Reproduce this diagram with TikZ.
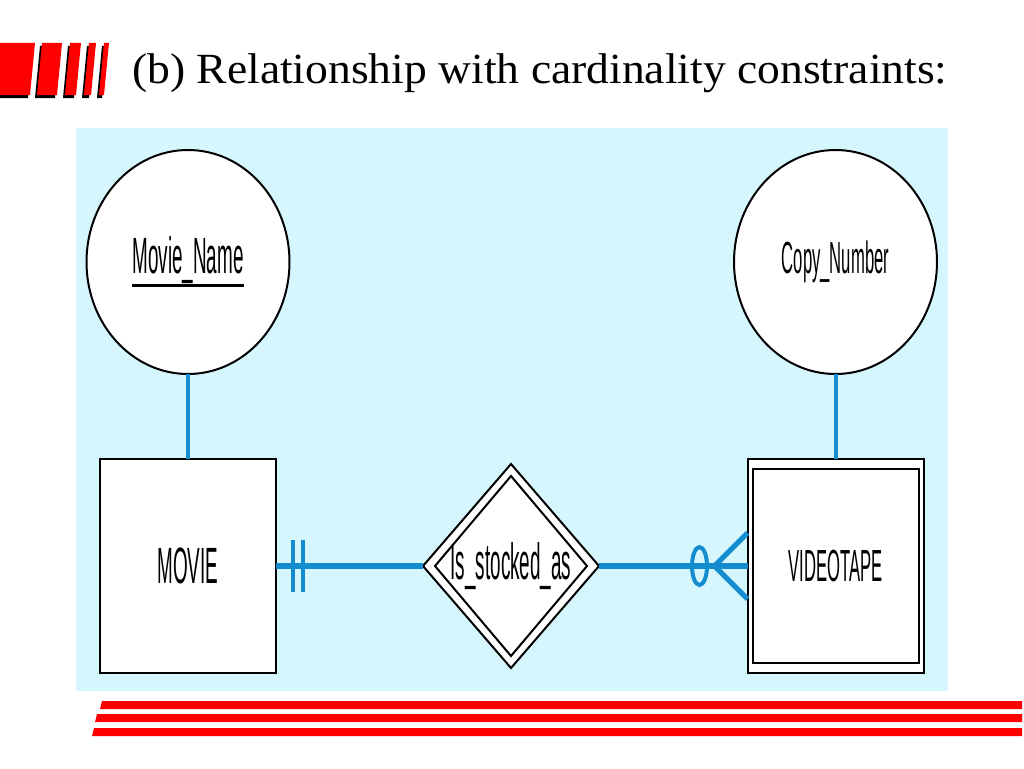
\documentclass[tikz,border=0pt]{standalone}
\usepackage{fontspec}
\setmainfont{Liberation Serif}
\newfontfamily\titleserif[FakeStretch=1.06]{Liberation Serif}
\newfontfamily\narrowsans[FakeStretch=0.37]{Liberation Sans}
\usepackage{xcolor}
\usetikzlibrary{shapes,shapes.geometric}
\usetikzlibrary{arrows.meta}
\definecolor{slidebg}{RGB}{214,246,253}
\definecolor{erblue}{RGB}{20,140,205}
\newcommand{\erbig}{\narrowsans\fontsize{51}{51}\selectfont}
\newcommand{\ersmall}{\narrowsans\fontsize{45}{45}\selectfont}
\newcommand{\keyattr}[1]{\setbox0=\hbox{#1}\leavevmode\rlap{\raisebox{-13pt}{\rule{\wd0}{2.5pt}}}\box0}

\begin{document}
\begin{tikzpicture}[x=1pt, y=-1pt,
	erbox/.style={fill=white, draw=black, line width=2pt, outer sep=0pt, inner sep=0pt, font=\ersmall},
	entity/.style={erbox, shape=rectangle, minimum width=176pt, minimum height=214pt},
	attrib/.style={erbox, shape=ellipse, minimum width=203pt, minimum height=224pt},
	relship/.style={erbox, shape=diamond, aspect=0.86, minimum width=176pt, minimum height=204pt},
	conn/.style={draw=erblue, line width=4pt},
	mainconn/.style={draw=erblue, line width=6pt}]
	\useasboundingbox (0, 0) rectangle (1024, 768);
	\foreach \xa/\xb in {-8/35, 37/62, 65/81, 84/96, 99/109} {
		\fill [black] (\xa-2, 98) -- (\xb-7, 98) -- (\xb-2, 46) -- (\xa+3, 46) -- cycle;
		\fill [red] (\xa, 95) -- (\xb-5, 95) -- (\xb, 43) -- (\xa+5, 43) -- cycle;
	}
	\node [anchor=base west, inner sep=0pt, font=\titleserif\fontsize{43}{43}\selectfont] (0) at (132, 83) {(b) Relationship with cardinality constraints:};
	\fill [slidebg] (76, 128) rectangle (948, 691);
	\foreach \ya/\xl in {701/102, 714/97, 728/94} {
		\fill [red] (\xl, \ya) -- (1022, \ya) -- (1022, \ya+8) -- (\xl-2, \ya+8) -- cycle;
	}
	\node [attrib, font=\erbig] (1) at (188, 262) {\keyattr{Movie\_Name}};
	\node [entity, font=\erbig] (2) at (188, 566) {MOVIE};
	\node [relship, font=\erbig] (3) at (511, 566) {Is\_stocked\_as};
	\node [attrib] (4) at (835.5, 262) {Copy\_Number};
	\node [entity] (5) at (835.5, 566) {VIDEOTAPE};
	\draw [line width=2pt] ([shift={(5, 10)}]5.north west) rectangle ([shift={(-5, -10)}]5.south east);
	\draw [line width=2pt] ([xshift=12pt]3.west) -- ([yshift=-12pt]3.north) -- ([xshift=-12pt]3.east) -- ([yshift=12pt]3.south) -- cycle;
	\draw [conn] (1) to (2);
	\draw [conn] (4) to (5);
	\draw [mainconn] (2) to (3);
	\draw [mainconn] (3) to (5);
	\draw [conn] ([xshift=17pt, yshift=26pt]2.east) to ([xshift=17pt, yshift=-26pt]2.east);
	\draw [conn] ([xshift=27pt, yshift=26pt]2.east) to ([xshift=27pt, yshift=-26pt]2.east);
	\draw [conn] ([xshift=-48pt]5.west) ellipse [x radius=7.5, y radius=19];
	\draw [conn, line width=5pt, line join=round] ([yshift=33pt]5.west) -- ([xshift=-33pt]5.west) -- ([yshift=-33pt]5.west);
\end{tikzpicture}
\end{document}
